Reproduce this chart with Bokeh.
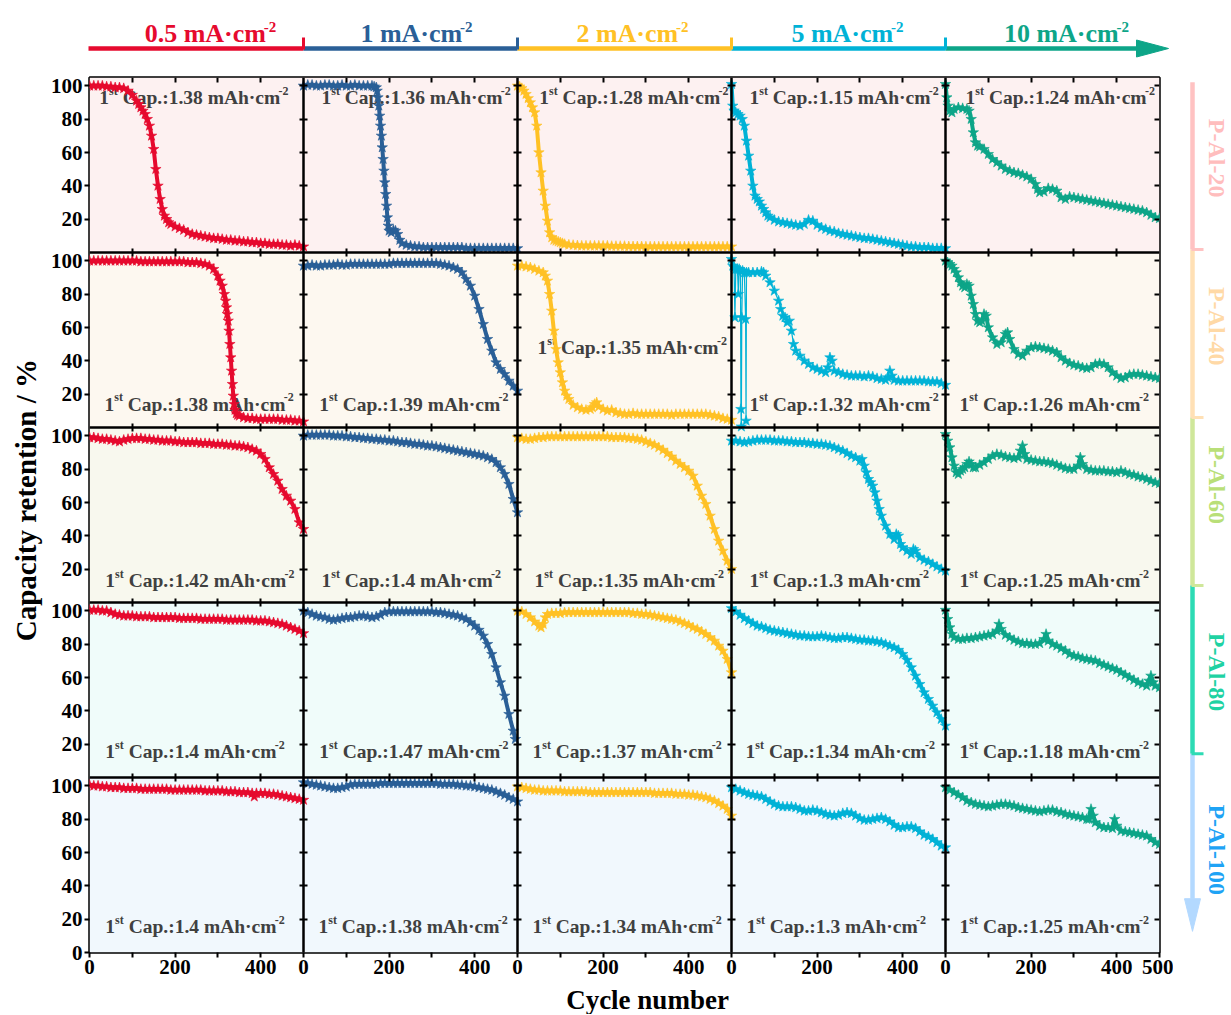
import math
from bokeh.plotting import figure
from bokeh.layouts import column, row
from bokeh.models import Range1d, LinearAxis, FixedTicker, Span, BoxAnnotation, Label
from bokeh.embed import file_html
from bokeh.resources import INLINE

# ---------------------------------------------------------------- data
# (cycle number, capacity retention %)
A20_C05 = [(0,100),(10,100),(20,100),(30,100),(40,99.5),(50,99.5),(60,99),(70,99),(80,98.5),(90,97),(100,94.5),(110,91),(115,89),(120,87),(125,85),(130,83),(135,80),(140,76),(145,70),(150,62),(155,50),(160,40),(165,32),(170,26),(175,22),(180,20),(185,18),(190,17),(200,15.5),(210,14.5),(220,13.5),(230,12),(240,11),(250,10.5),(260,10),(270,9.5),(280,9),(290,8.5),(300,8.5),(310,8),(320,7.5),(330,7.5),(340,7),(350,7),(360,6.5),(370,6.5),(380,6),(390,6),(400,5.5),(410,5.5),(420,5),(430,5),(440,5),(450,4.5),(460,4.5),(470,4),(480,4.5),(490,4),(500,3.5)]
A20_C1 = [(0,100),(10,100.5),(20,100.5),(30,100),(40,100),(50,100.5),(60,100.5),(70,100),(80,100),(90,100.5),(100,100),(110,100),(120,100.5),(130,100),(140,100),(150,100),(160,100),(165,99.5),(170,99),(172,97),(174,93),(176,88),(178,82),(180,76),(182,70),(184,63),(186,56),(188,49),(190,42),(192,35),(194,28),(196,21),(198,16),(200,13),(205,12),(210,13.5),(215,13),(220,11),(225,7.5),(230,5.5),(240,4.5),(250,4),(260,3.5),(270,3.5),(280,3),(290,3),(300,3),(310,3),(320,3),(330,3),(340,3),(350,3),(360,3),(370,3),(380,2.5),(390,2.5),(400,2.5),(410,2.5),(420,2.5),(430,2.5),(440,2.5),(450,2.5),(460,2.5),(470,2.5),(480,2.5),(490,2.5),(500,2.5)]
A20_C2 = [(0,100),(5,99.5),(10,98.5),(15,97),(20,95),(25,92.5),(30,90),(35,87),(40,84),(45,76),(50,60),(55,48),(60,37),(65,28),(70,19),(75,12),(80,9),(85,7.5),(90,7),(95,6.5),(100,6),(105,5.5),(110,5),(120,4.6),(130,4.4),(140,4.2),(150,4),(160,4),(170,4),(180,4),(190,4),(200,4),(210,4),(220,3.8),(230,3.8),(240,3.8),(250,3.8),(260,3.6),(270,3.6),(280,3.6),(290,3.6),(300,3.5),(310,3.5),(320,3.5),(330,3.5),(340,3.5),(350,3.5),(360,3.5),(370,3.5),(380,3.5),(390,3.5),(400,3.5),(410,3.5),(420,3.5),(430,3.5),(440,3.5),(450,3.5),(460,3.5),(470,3.5),(480,3.5),(490,3.5),(500,3.5)]
A20_C5 = [(0,101),(3,88),(6,85),(10,84),(15,83),(20,82),(25,80),(30,76),(35,67),(40,58),(45,49),(50,40),(55,34),(60,32),(65,30.5),(70,28),(75,26),(80,24),(85,22),(90,21),(100,19.5),(110,18.5),(120,18),(130,17.5),(140,17),(150,16.5),(160,16),(170,17),(180,19.5),(190,19),(200,16.5),(210,15),(220,14),(230,13),(240,12.5),(250,11.5),(260,11),(270,10.5),(280,10),(290,9.5),(300,9),(310,8.5),(320,8.5),(330,8),(340,7.5),(350,7),(360,6.5),(370,6),(380,5.5),(390,5),(400,4.5),(410,4),(420,3.5),(430,3.5),(440,3),(450,3),(460,3),(470,2.5),(480,2.5),(490,2.5),(500,2.5)]
A20_C10 = [(0,101),(3,93),(6,88),(10,85),(15,84),(20,86),(30,87),(40,86.5),(50,86),(55,85),(60,80),(65,72),(70,66),(75,64),(80,63.5),(90,62),(100,59),(110,56),(120,54),(130,52),(140,50),(150,49),(160,48),(170,47.5),(180,46.5),(190,45.5),(200,44),(210,41),(215,38),(220,36),(230,36.5),(240,38.5),(250,38),(260,37),(270,33),(280,32),(290,33.5),(300,33),(310,32.5),(320,32),(330,31.5),(340,31),(350,30.5),(360,30),(370,29.5),(380,29),(390,28.5),(400,28),(410,27.5),(420,27),(430,26.5),(440,26),(450,25.5),(460,25),(470,24),(480,22.5),(490,21),(500,20.5)]

A40_C05 = [(0,100),(10,100),(20,100),(30,100),(40,100),(50,100),(60,100),(70,100),(80,100),(90,100),(100,100),(110,100),(120,99.5),(130,99.5),(140,99.5),(150,99.5),(160,99.5),(170,99.5),(180,99.5),(190,99.5),(200,99.5),(210,99.5),(220,99.5),(230,99),(240,99),(250,99),(260,98.5),(270,98),(280,97),(290,95),(300,91),(305,88),(310,85),(315,80),(318,76),(320,72),(322,68),(324,64),(326,58),(328,50),(330,42),(332,34),(334,26),(336,19),(338,14),(340,10.5),(343,8.5),(346,7.5),(350,7),(360,6),(370,5.5),(380,5.5),(390,5),(400,5),(410,5),(420,5),(430,5),(440,5),(450,4.5),(460,4.5),(470,4.5),(480,4),(490,4),(500,3.5)]
A40_C1 = [(0,97),(10,97),(20,97.5),(30,97),(40,97),(50,97.5),(60,97.5),(70,97.5),(80,98),(90,97.5),(100,97.5),(110,98),(120,98),(130,98),(140,98),(150,98),(160,98),(170,98),(180,98),(190,98),(200,98),(210,98.5),(220,98.5),(230,98.5),(240,98.5),(250,98.5),(260,98.5),(270,98.5),(280,98.5),(290,98.5),(300,98.5),(310,98.5),(320,98),(330,97.5),(340,97),(350,96),(360,95),(370,93),(380,89),(390,85),(400,79),(410,71),(420,62),(430,53),(440,46),(450,39),(460,35),(470,32),(480,28),(490,25),(500,22)]
A40_C2 = [(0,97),(10,97),(20,96.5),(30,96),(40,95),(50,94),(60,93),(65,91),(70,88),(75,80),(80,70),(85,58),(90,47),(95,39),(100,33),(105,27),(110,22),(115,19),(120,17),(130,13.5),(140,12),(150,11),(160,10.5),(170,11),(175,12),(180,14),(185,15),(190,12.5),(200,11),(210,10),(220,10.5),(230,9),(240,8.5),(250,8),(260,8),(270,8.5),(280,8),(290,8),(300,8),(310,8),(320,8),(330,8),(340,8),(350,8),(360,7.5),(370,8),(380,8),(390,8),(400,8),(410,8),(420,8),(430,8),(440,8),(450,7.5),(460,7),(470,6.5),(480,5.5),(490,5),(500,4.5)]
A40_C5 = [(0,101),(3,97),(6,96),(8,66),(10,95),(14,95),(16,80),(18,95),(21,94),(22,11),(23,0.5),(24,66),(26,94),(30,93),(33,65),(34,4),(35,93),(40,93),(50,93),(60,93),(70,93.5),(75,93),(80,91),(90,87),(100,82),(110,76),(115,71),(120,67),(125,66),(130,63),(135,64),(140,58),(145,50),(150,46),(160,43),(170,40),(180,38),(190,36),(200,35),(210,34),(220,33),(225,36),(230,42),(235,40),(240,34),(250,33),(260,32),(270,31.5),(280,31),(290,31),(300,31),(310,30.5),(320,31),(330,30.5),(340,29.5),(350,29),(360,28.5),(365,30),(370,34),(375,31),(380,28.5),(390,28),(400,28),(410,28),(420,28),(430,28),(440,28),(450,28),(460,27.5),(470,27.5),(480,27.5),(490,26.5),(500,25.5)]
A40_C10 = [(0,100),(5,99),(10,98),(15,97),(20,95),(25,93),(30,90),(35,87),(40,85),(45,84),(50,86),(55,85),(60,79),(65,74),(70,68),(75,64),(80,63),(85,64),(90,68),(95,67),(100,60),(110,54),(120,50),(130,51),(140,56),(145,57),(150,53),(160,47),(170,44),(180,43),(190,46),(200,48),(210,48.5),(220,48),(230,47.5),(240,47),(250,46),(260,45),(270,42),(280,40),(290,38.5),(300,37.5),(310,37),(320,36),(330,35.5),(340,36),(350,38),(360,38.5),(370,38),(380,36),(390,33),(400,31),(410,29.5),(420,30),(430,31.5),(440,32),(450,32),(460,31.5),(470,31),(480,30.5),(490,30),(500,29.5)]

A60_C05 = [(0,99),(10,99),(20,98.5),(30,98),(40,98),(50,97.5),(60,97),(70,96.5),(80,97.5),(90,98),(100,98.5),(110,98.5),(120,98.5),(130,98),(140,98),(150,97.5),(160,97.5),(170,97),(180,97),(190,97),(200,96.5),(210,96.5),(220,96),(230,96),(240,96),(250,96),(260,95.5),(270,95.5),(280,95.5),(290,95),(300,95),(310,95),(320,94.5),(330,94.5),(340,94),(350,94),(360,93.5),(370,93),(380,92),(390,91),(400,89),(410,86),(420,81),(430,77),(440,73),(450,68),(460,64),(470,61),(480,56),(490,48),(500,44)]
A60_C1 = [(0,100),(10,100.5),(20,100.5),(30,100.5),(40,100.5),(50,100.5),(60,100.5),(70,100),(80,100),(90,100),(100,99.5),(110,99.5),(120,99),(130,99),(140,98.5),(150,98.5),(160,98),(170,98),(180,97.5),(190,97.5),(200,97),(210,97),(220,96.5),(230,96),(240,96),(250,95.5),(260,95),(270,95),(280,94.5),(290,94),(300,94),(310,93.5),(320,93),(330,92.5),(340,92),(350,91.5),(360,91),(370,90.5),(380,90),(390,89.5),(400,89),(410,88.5),(420,88),(430,87),(440,86),(450,84),(460,81),(470,77),(480,71),(490,62),(500,54)]
A60_C2 = [(0,99),(10,98.5),(20,98),(30,98),(40,98.5),(50,99),(60,99),(70,99.5),(80,99.5),(90,99.5),(100,99.5),(110,99.5),(120,99.5),(130,99.5),(140,99.5),(150,99.5),(160,99.5),(170,99.5),(180,99.5),(190,99.5),(200,99.5),(210,99.5),(220,99),(230,99),(240,99),(250,99),(260,98.5),(270,98.5),(280,98),(290,97.5),(300,96.5),(310,95.5),(320,94.5),(330,93),(340,91.5),(350,89.5),(360,87.5),(370,85),(380,83),(390,81),(400,79),(410,76),(420,70),(430,64),(440,59),(450,52),(460,44),(470,37),(480,31),(490,25),(500,20)]
A60_C5 = [(0,97),(10,97),(20,96.5),(30,96),(40,96.5),(50,97),(60,97.5),(70,97.5),(80,97.5),(90,97.5),(100,97),(110,97),(120,97),(130,96.5),(140,96.5),(150,96),(160,96),(170,96),(180,95.5),(190,95.5),(200,95),(210,95),(220,94.5),(230,94),(240,93),(250,92),(260,91),(270,89.5),(280,88),(290,87),(300,85),(305,86),(310,82),(315,78),(320,74),(325,72),(330,70),(335,66),(340,61),(345,56),(350,52),(360,46),(370,41),(380,38),(385,41),(390,40),(395,35),(400,33),(410,31),(420,29),(425,32),(430,31),(440,27),(450,25.5),(460,24.5),(470,23),(480,21.5),(490,20),(500,19)]
A60_C10 = [(0,101),(5,97),(10,93),(15,87),(20,82),(25,78),(30,77),(35,79),(40,80),(45,81),(50,83),(55,84.5),(60,83),(65,81),(70,81),(80,82.5),(90,84),(100,86),(110,88),(120,89),(130,88.5),(140,87.5),(150,87),(160,86.5),(170,87),(175,91),(180,94),(185,89),(190,86),(200,85.5),(210,85),(220,84.5),(230,84.5),(240,84),(250,83.5),(260,82.5),(270,81.5),(280,80.5),(290,80),(300,80),(310,82),(315,87),(320,83),(330,80),(340,79.5),(350,79),(360,79),(370,79),(380,78.5),(390,78.5),(400,78),(410,79),(420,78),(430,77),(440,76.5),(450,75.5),(460,75),(470,74),(480,73),(490,72),(500,71.5)]

A80_C05 = [(0,100.5),(10,100.5),(20,100.5),(30,100),(40,100),(50,99),(60,98),(70,97.5),(80,97),(90,97),(100,97),(110,96.5),(120,96.5),(130,96.5),(140,96.5),(150,96),(160,96),(170,96),(180,96),(190,96),(200,96),(210,95.5),(220,95.5),(230,95.5),(240,95.5),(250,95.5),(260,95),(270,95),(280,95),(290,95),(300,95),(310,95),(320,94.5),(330,94.5),(340,94.5),(350,94.5),(360,94.5),(370,94.5),(380,94.5),(390,94),(400,94),(410,94),(420,93.5),(430,93),(440,92.5),(450,92),(460,91),(470,90),(480,89),(490,88),(500,86.5)]
A80_C1 = [(0,100),(10,99),(20,98),(30,97),(40,96.5),(50,96),(60,95),(70,94.5),(80,95),(90,95.5),(100,96),(110,96),(120,96.5),(130,97),(140,97),(150,96.5),(160,96),(170,96.5),(180,97.5),(190,99),(200,99.5),(210,99.5),(220,99.5),(230,99.5),(240,99.5),(250,99.5),(260,99.5),(270,99.5),(280,99.5),(290,99.5),(300,99.5),(310,99),(320,99),(330,98.5),(340,98),(350,97.5),(360,97),(370,96),(380,95),(390,93),(400,91),(410,88.5),(420,85),(430,80),(440,74),(450,66),(460,57),(470,49),(480,38),(490,28),(495,23)]
A80_C2 = [(0,100),(10,99.5),(20,98),(30,96),(40,93.5),(50,91),(55,90),(60,92),(65,96),(70,98),(80,98.5),(90,98.5),(100,98.5),(110,99),(120,99),(130,99),(140,99),(150,99),(160,99),(170,99),(180,99),(190,99),(200,99),(210,99),(220,99),(230,99),(240,99),(250,99),(260,99),(270,98.5),(280,98.5),(290,98),(300,98),(310,97.5),(320,97),(330,96.5),(340,96),(350,95.5),(360,95),(370,94.5),(380,93.5),(390,92.5),(400,91.5),(410,90),(420,89),(430,87.5),(440,86),(450,84),(460,82),(470,79),(480,76),(490,71),(500,63)]
A80_C5 = [(0,101.5),(10,99.5),(20,97.5),(30,95.5),(40,94),(50,92.5),(60,91),(70,90.5),(80,89.5),(90,88.5),(100,88),(110,87.5),(120,87),(130,86.5),(140,86),(150,85.5),(160,85),(170,85),(180,84.5),(190,84.5),(200,84.5),(210,85),(220,84.5),(230,84),(240,83.5),(250,83.5),(260,84),(270,84),(280,83.5),(290,83),(300,82.5),(310,82.5),(320,82),(330,82),(340,81.5),(350,81),(360,80),(370,79),(380,78),(390,76.5),(400,74),(410,70.5),(420,66),(430,61),(440,56),(450,51),(460,47),(470,43),(480,39),(490,35),(500,31)]
A80_C10 = [(0,100.5),(5,95),(10,90),(15,86),(20,84),(30,83),(40,83),(50,83.5),(60,83.5),(70,84),(80,84.5),(90,85),(100,85.5),(110,86),(120,88),(125,92),(130,89),(140,85.5),(150,84),(160,82.5),(170,81.5),(180,80.5),(190,80.5),(200,80),(210,80),(220,80.5),(230,83),(235,86),(240,82),(250,80),(260,79),(270,77.5),(280,76),(290,74),(300,73),(310,72.5),(320,71.5),(330,71),(340,70.5),(350,70),(360,68.5),(370,67.5),(380,66.5),(390,65.5),(400,64.5),(410,63),(420,61.5),(430,60),(440,58.5),(450,57),(460,56),(470,55),(475,58),(480,61),(485,57),(490,55),(500,54)]

A100_C05 = [(0,100.5),(10,100),(20,100),(30,99.5),(40,99.5),(50,99),(60,99),(70,99),(80,98.5),(90,98.5),(100,98.5),(110,98.5),(120,98),(130,98),(140,98),(150,98),(160,98),(170,98),(180,98),(190,97.5),(200,97.5),(210,97.5),(220,97.5),(230,97.5),(240,97.5),(250,97.5),(260,97.5),(270,97),(280,97),(290,97),(300,97),(310,97),(320,96.5),(330,96.5),(340,96.5),(350,96),(360,96),(370,96),(380,95.5),(385,93.5),(390,95.5),(400,95.5),(410,95.5),(420,95),(430,95),(440,94.5),(450,94),(460,93.5),(470,93),(480,92.5),(490,92),(500,91.5)]
A100_C1 = [(0,102),(10,101.5),(20,101),(30,100.5),(40,100),(50,99.5),(60,99),(70,98.5),(80,98.5),(90,99),(100,99.5),(110,100.5),(120,101),(130,101),(140,101),(150,101),(160,101),(170,101),(180,101.5),(190,101.5),(200,101.5),(210,101.5),(220,101.5),(230,101.5),(240,101.5),(250,101.5),(260,101.5),(270,101.5),(280,101.5),(290,101.5),(300,101.5),(310,101.5),(320,101),(330,101),(340,101),(350,101),(360,100.5),(370,100.5),(380,100),(390,100),(400,99.5),(410,99),(420,98.5),(430,98),(440,97.5),(450,96.5),(460,95.5),(470,94.5),(480,93),(490,92),(500,90.5)]
A100_C2 = [(0,99.5),(10,99),(20,98.5),(30,98),(40,97.5),(50,97.5),(60,97),(70,97),(80,97),(90,97),(100,97),(110,96.5),(120,96.5),(130,96.5),(140,96.5),(150,96.5),(160,96.5),(170,96),(180,96),(190,96),(200,96),(210,96),(220,96),(230,96),(240,96),(250,96),(260,96),(270,96),(280,96),(290,96),(300,96),(310,96),(320,95.5),(330,95.5),(340,95.5),(350,95.5),(360,95.5),(370,95),(380,95),(390,95),(400,94.5),(410,94.5),(420,94),(430,93.5),(440,93),(450,92),(460,91),(470,89.5),(480,88),(490,86),(500,82)]
A100_C5 = [(0,99),(10,98),(20,97),(30,96),(40,95),(50,94.5),(60,94),(70,93.5),(80,92),(90,90.5),(100,89),(110,88),(120,87.5),(130,87.5),(140,87.5),(150,87),(160,86),(170,85),(180,85),(190,85.5),(200,85),(210,84),(220,83),(230,82.5),(240,82),(250,82.5),(260,83.5),(270,84),(280,83.5),(290,82),(300,80.5),(310,79.5),(320,79.5),(330,80),(340,80.5),(350,81),(360,80),(370,78.5),(380,76.5),(390,75),(400,75),(410,75.5),(420,75.5),(430,74.5),(440,72.5),(450,70.5),(460,69.5),(470,68),(480,66),(490,64),(500,63)]
A100_C10 = [(0,99),(10,97.5),(20,96),(30,94.5),(40,93),(50,91),(60,90),(70,89),(80,88.5),(90,88),(100,87.5),(110,88),(120,88.5),(130,89),(140,89),(150,88.5),(160,88),(170,87),(180,86.5),(190,86),(200,85.5),(210,85),(220,84.5),(230,85),(240,85.5),(250,85.5),(260,84.5),(270,84),(280,83),(290,82.5),(300,82),(310,81.5),(320,81),(330,80),(335,80),(340,86),(345,82),(350,78),(360,76),(370,75),(380,75),(390,74.5),(395,80),(400,76),(410,73),(420,72.5),(430,72),(440,71.5),(450,71),(460,70.5),(470,70),(480,68),(490,66),(500,65)]

CURRENTS = ["0.5", "1", "2", "5", "10"]          # mA cm-2, columns
SAMPLES = ["P-Al-20", "P-Al-40", "P-Al-60", "P-Al-80", "P-Al-100"]   # rows
FIRST_CAP = [["1.38", "1.36", "1.28", "1.15", "1.24"],
             ["1.38", "1.39", "1.35", "1.32", "1.26"],
             ["1.42", "1.4", "1.35", "1.3", "1.25"],
             ["1.4", "1.47", "1.37", "1.34", "1.18"],
             ["1.4", "1.38", "1.34", "1.3", "1.25"]]
SERIES = [[A20_C05, A20_C1, A20_C2, A20_C5, A20_C10],
          [A40_C05, A40_C1, A40_C2, A40_C5, A40_C10],
          [A60_C05, A60_C1, A60_C2, A60_C5, A60_C10],
          [A80_C05, A80_C1, A80_C2, A80_C5, A80_C10],
          [A100_C05, A100_C1, A100_C2, A100_C5, A100_C10]]
X_LABELED = [0, 200, 400]
X_MINOR = [100, 300]
X_LAST = 500
Y_TICKS = [20, 40, 60, 80, 100]
Y_TICKS_LAST = [0, 20, 40, 60, 80, 100]

# ---------------------------------------------------------------- style / layout
FONT = "Liberation Serif"
COL_COLORS = ["#E60A2E", "#2A5F97", "#FFC125", "#00B2D6", "#0DA588"]
ROW_BG = ["#FDF1F1", "#FDF8F0", "#F8F8EE", "#F0FCFA", "#F1F8FD"]
BAR_COLORS = ["#FFC2C2", "#FFE0B5", "#CFE79A", "#2DDBB4", "#B3D9FF"]
SAMPLE_COLORS = ["#FFBDBD", "#FFD9A6", "#B9DF78", "#1FD2A3", "#1EA3F5"]
ANN_COLOR = "#404040"
ANN_X = [[23, 42, 51, 42, 47], [35, 37, 47, 42, 33], [37, 42, 40, 42, 33],
         [37, 37, 35, 33, 33], [37, 35, 35, 35, 33]]
ANN_Y = [[93] * 5, [14, 14, 48, 14, 14], [13] * 5, [15.5] * 5, [15.5] * 5]
LINE_W = [[4] * 5, [4, 4, 4, 1.2, 4], [4] * 5, [4] * 5, [4] * 5]
STAR_SIZE = 11

CHAR_W = {' ': .25, '-': .333, '.': .25, '/': .278, ':': .333, '%': 1.0, '\u00b7': .25,
          'A': .722, 'C': .722, 'P': .611, 'a': .5, 'b': .556, 'c': .444, 'e': .444,
          'h': .556, 'i': .278, 'l': .278, 'm': .833, 'n': .556, 'o': .5, 'p': .556,
          'r': .444, 's': .389, 't': .333, 'u': .556, 'y': .5}


def text_w(s, size):
    return sum(CHAR_W.get(ch, 0.5) for ch in s) * size


TOTAL_W, TOTAL_H = 1231, 1014
PW, PH = 214, 175
NC, NR = 5, 5
XSPAN, YSPAN = 500, 105
PX0, PY0 = 89, 77                      # top-left corner of the panel grid on the page
M_LEFT, M_RIGHT, M_TOP, M_BOTTOM = 46, 14, 4, 32
YTITLE_W = PX0 - M_LEFT
MAIN_W = M_LEFT + NC * PW + M_RIGHT
MAIN_H = M_TOP + NR * PH + M_BOTTOM
TOP_H = PY0 - M_TOP
RIGHT_W = TOTAL_W - YTITLE_W - MAIN_W
BOTTOM_H = TOTAL_H - TOP_H - MAIN_H


def rich(fig, x, y, parts, size, sup_size, rise, color, center=False, level="annotation"):
    widths = [text_w(t, sup_size if s else size) for t, s in parts]
    off = -sum(widths) / 2 if center else 0
    for (t, s), w in zip(parts, widths):
        sz = sup_size if s else size
        lead = len(t) - len(t.lstrip(' '))
        fig.add_layout(Label(x=x, y=y, x_offset=off + lead * CHAR_W[' '] * sz,
                             y_offset=rise if s else 0, text=t.lstrip(' '),
                             text_font=FONT, text_font_style="bold", text_font_size=f"{sz}px",
                             text_color=color, text_align="left", text_baseline="middle",
                             level=level))
        off += w


def deco_fig(w, h):
    return figure(width=w, height=h, x_range=Range1d(0, w), y_range=Range1d(0, h),
                  x_axis_type=None, y_axis_type=None, toolbar_location=None,
                  output_backend="svg", min_border=0, outline_line_color=None, title=None)


# ---------------------------------------------------------------- main panel figure
main = figure(width=MAIN_W, height=MAIN_H, x_range=Range1d(0, NC * XSPAN),
              y_range=Range1d(0, NR * YSPAN), x_axis_type=None, y_axis_type=None,
              toolbar_location=None, output_backend="svg", title=None,
              min_border_left=M_LEFT, min_border_right=M_RIGHT,
              min_border_top=M_TOP, min_border_bottom=M_BOTTOM,
              outline_line_color="black", outline_line_width=2.5)

for r in range(NR):
    base = (NR - 1 - r) * YSPAN
    main.add_layout(BoxAnnotation(left=0, right=NC * XSPAN, bottom=base, top=base + YSPAN,
                                  fill_color=ROW_BG[r], fill_alpha=1.0, line_color=None,
                                  level="underlay"))

for r in range(NR):
    base = (NR - 1 - r) * YSPAN
    for c in range(NC):
        parts = [("1", False), ("st", True), (" Cap.:" + FIRST_CAP[r][c] + " mAh\u00b7cm", False), ("-2", True)]
        rich(main, c * XSPAN + ANN_X[r][c], base + ANN_Y[r][c], parts, 19.5, 12, 7,
             ANN_COLOR, level="underlay")

for r in range(NR):
    base = (NR - 1 - r) * YSPAN
    for c in range(NC):
        sub = main.subplot(x_source=Range1d(0, XSPAN), y_source=Range1d(0, YSPAN),
                           x_target=Range1d(c * XSPAN, (c + 1) * XSPAN),
                           y_target=Range1d(base, base + YSPAN))
        xs = [p[0] for p in SERIES[r][c]]
        ys = [p[1] for p in SERIES[r][c]]
        col = COL_COLORS[c]
        sub.line(xs, ys, line_color=col, line_width=LINE_W[r][c])
        sub.scatter(xs, ys, marker="star", size=STAR_SIZE, fill_color=col, line_color=col,
                    line_width=0.6)


def make_axis(ticks, t_in, t_out, labels=None, minor=None, standoff=2, loc=None):
    ax = LinearAxis(ticker=FixedTicker(ticks=ticks, minor_ticks=minor or []),
                    fixed_location=loc, axis_line_color=None,
                    major_tick_in=t_in, major_tick_out=t_out,
                    minor_tick_in=t_in if minor else 0, minor_tick_out=t_out if minor else 0,
                    major_tick_line_width=2, minor_tick_line_width=2,
                    major_tick_line_color="black", minor_tick_line_color="black")
    if labels is None:
        ax.major_label_overrides = {t: "" for t in ticks}
        ax.major_label_text_font_size = "0px"
        ax.major_label_standoff = 0
    else:
        ax.major_label_overrides = labels
        ax.major_label_text_font = FONT
        ax.major_label_text_font_style = "bold"
        ax.major_label_text_font_size = "21px"
        ax.major_label_text_color = "black"
        ax.major_label_standoff = standoff
    return ax


# outer y axis with labels
yt, ylab = [], {}
for r in range(NR):
    base = (NR - 1 - r) * YSPAN
    for v in (Y_TICKS_LAST if r == NR - 1 else Y_TICKS):
        yt.append(base + v)
        ylab[base + v] = str(v)
main.add_layout(make_axis(yt, 0, 5, labels=ylab, standoff=2), "left")

# outer x axis with labels
xt, xmin, xlab = [], [], {}
for c in range(NC):
    for t in X_LABELED:
        xt.append(c * XSPAN + t)
        xlab[c * XSPAN + t] = str(t)
    for t in X_MINOR:
        xmin.append(c * XSPAN + t)
xt.append(NC * XSPAN)
xlab[NC * XSPAN] = str(X_LAST)
main.add_layout(make_axis(xt, 0, 5, labels=xlab, minor=xmin, standoff=2), "below")

# inner tick marks on every panel boundary
inner_y = [r * YSPAN + v for r in range(NR) for v in Y_TICKS]
inner_x = [c * XSPAN + t for c in range(NC) for t in (100, 200, 300, 400)]
for c in range(1, NC + 1):
    main.add_layout(make_axis(inner_y, 4 if c < NC else 0, 4 if c < NC else 5, loc=c * XSPAN), "left")
for r in range(1, NR + 1):
    main.add_layout(make_axis(inner_x, 4 if r < NR else 0, 4 if r < NR else 5, loc=r * YSPAN), "below")

for c in range(1, NC):
    main.add_layout(Span(location=c * XSPAN, dimension="height", line_color="black", line_width=2.5))
for r in range(1, NR):
    main.add_layout(Span(location=r * YSPAN, dimension="width", line_color="black", line_width=2.5))

# ---------------------------------------------------------------- top bar (current densities)
top = deco_fig(TOTAL_W, TOP_H)
tx = lambda px: px
ty = lambda py: TOP_H - py
BAR_Y = 48
ARROW_BASE, ARROW_TIP = 1136, 1168
x0s = [tx(PX0 + c * PW - (1 if c == 0 else 0)) for c in range(NC)]
x1s = [tx(PX0 + (c + 1) * PW) for c in range(NC - 1)] + [tx(ARROW_BASE)]
top.segment(x0=x0s, y0=[ty(BAR_Y)] * NC, x1=x1s, y1=[ty(BAR_Y)] * NC,
            line_color=COL_COLORS, line_width=4.5)
top.segment(x0=[tx(PX0 + c * PW) for c in range(1, NC)], y0=[ty(BAR_Y + 1)] * (NC - 1),
            x1=[tx(PX0 + c * PW) for c in range(1, NC)], y1=[ty(37)] * (NC - 1),
            line_color=COL_COLORS[:NC - 1], line_width=3)
top.patch([tx(ARROW_BASE), tx(ARROW_TIP), tx(ARROW_BASE)],
          [ty(BAR_Y - 8.5), ty(BAR_Y), ty(BAR_Y + 8.5)], fill_color=COL_COLORS[-1],
          line_color=COL_COLORS[-1])
TOP_LABEL_X = [210, 416, 632, 847, 1066]
for c in range(NC):
    rich(top, tx(TOP_LABEL_X[c]), ty(33), [(CURRENTS[c] + " mA\u00b7cm", False), ("-2", True)],
         26, 15, 7, COL_COLORS[c], center=True)

# ---------------------------------------------------------------- right bar (samples)
right = deco_fig(RIGHT_W, MAIN_H)
RX0 = YTITLE_W + MAIN_W
rx = lambda px: px - RX0
ry = lambda py: MAIN_H - (py - TOP_H)
BAR_X = 1192
AR_BASE, AR_TIP = 928, 962
y0s = [ry(PY0 + r * PH + (1 if r == 0 else 0)) for r in range(NR)]
y1s = [ry(PY0 + (r + 1) * PH) for r in range(NR - 1)] + [ry(AR_BASE)]
right.segment(x0=[rx(BAR_X)] * NR, y0=y0s, x1=[rx(BAR_X)] * NR, y1=y1s,
              line_color=BAR_COLORS, line_width=4.5)
right.segment(x0=[rx(BAR_X - 1)] * (NR - 1), y0=[ry(PY0 + r * PH) for r in range(1, NR)],
              x1=[rx(1203)] * (NR - 1), y1=[ry(PY0 + r * PH) for r in range(1, NR)],
              line_color=BAR_COLORS[:NR - 1], line_width=3)
right.patch([rx(BAR_X - 8), rx(BAR_X), rx(BAR_X + 8)], [ry(AR_BASE), ry(AR_TIP), ry(AR_BASE)],
            fill_color=BAR_COLORS[-1], line_color=BAR_COLORS[-1])
SAMPLE_Y = [157, 332, 497, 692, 877]
for r in range(NR):
    right.add_layout(Label(x=rx(1216), y=ry(SAMPLE_Y[r]), text=SAMPLES[r], angle=-math.pi / 2,
                           text_font=FONT, text_font_style="bold", text_font_size="24px",
                           text_color=SAMPLE_COLORS[r], text_align="center",
                           text_baseline="middle"))

# ---------------------------------------------------------------- axis titles
ytitle = deco_fig(YTITLE_W, MAIN_H)
ytitle.add_layout(Label(x=25, y=MAIN_H - (513 - TOP_H),
                        text="Capacity retention / %", angle=math.pi / 2, text_font=FONT,
                        text_font_style="bold", text_font_size="29px", text_color="black",
                        text_align="center", text_baseline="middle"))

bottom = deco_fig(TOTAL_W, BOTTOM_H)
bottom.add_layout(Label(x=647, y=BOTTOM_H / 2,
                        text="Cycle number", text_font=FONT, text_font_style="bold",
                        text_font_size="27px", text_color="black", text_align="center",
                        text_baseline="middle"))

layout = column(top, row(ytitle, main, right), bottom)
open("out.html", "w").write(file_html(layout, INLINE))
